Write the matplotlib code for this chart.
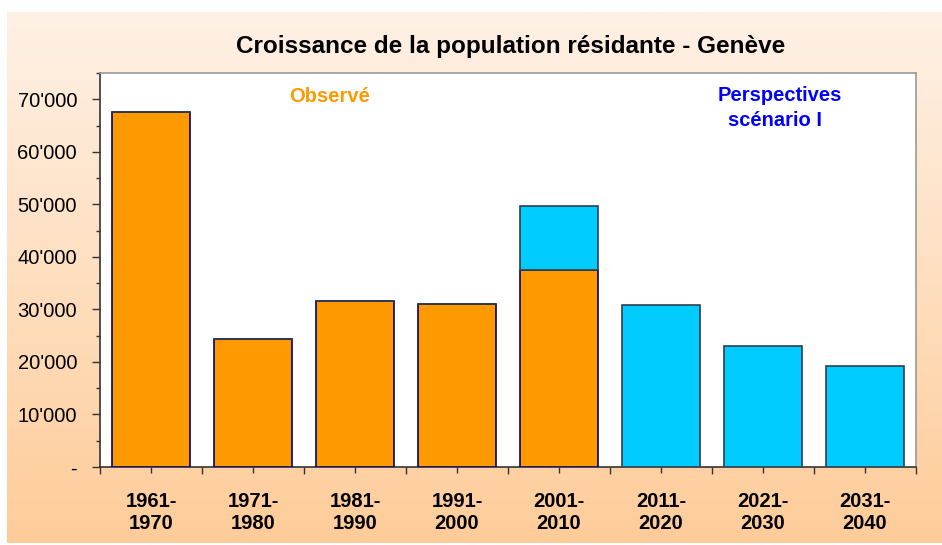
import matplotlib
matplotlib.use("Agg")
import matplotlib.pyplot as plt
import numpy as np
from matplotlib.ticker import FuncFormatter, MultipleLocator, FixedLocator

plt.rcParams['font.family'] = ['Liberation Sans', 'DejaVu Sans']

categories = ["1961-\n1970", "1971-\n1980", "1981-\n1990", "1991-\n2000",
              "2001-\n2010", "2011-\n2020", "2021-\n2030", "2031-\n2040"]
observed = [67500, 24300, 31600, 31100, 37500, 0, 0, 0]
projected = [0, 0, 0, 0, 12100, 30800, 23100, 19300]

W, H = 942, 545
fig = plt.figure(figsize=(W / 100, H / 100), dpi=100)

# gradient background panel
bg = fig.add_axes([7 / W, 2 / H, (W - 7) / W, (543 - 12) / H])
bg.set_axis_off()
top = np.array([254, 241, 230]) / 255
bot = np.array([255, 204, 153]) / 255
t = np.linspace(0, 1, 256)[:, None]
grad = top[None, :] * (1 - t) + bot[None, :] * t
bg.imshow(grad[:, None, :], aspect='auto', extent=[0, 1, 0, 1])
bg.set_xlim(0, 1); bg.set_ylim(0, 1)

ax = fig.add_axes([100 / W, (H - 467) / H, 816 / W, 394 / H])
ax.set_facecolor('white')
x = np.arange(len(categories))
ax.bar(x, observed, width=0.77, color='#FF9900', edgecolor='#000080', linewidth=1.2, zorder=3)
ax.bar(x, projected, width=0.77, bottom=observed, color='#00CCFF', edgecolor='#2f3f4f',
       linewidth=1.2, zorder=3)

ax.set_xlim(-0.5, len(categories) - 0.5)
ax.set_ylim(0, 75000)

def fmt(v, pos):
    if v == 0:
        return '-'
    return "{:,}".format(int(v)).replace(',', "'")

ax.yaxis.set_major_locator(MultipleLocator(10000))
ax.yaxis.set_minor_locator(MultipleLocator(5000))
ax.yaxis.set_major_formatter(FuncFormatter(fmt))
ax.tick_params(axis='y', which='major', length=5.5, width=1, color='#333333',
               labelsize=14.5, pad=11, direction='out')
ax.tick_params(axis='y', which='minor', length=3, width=1, color='#333333', direction='out')

ax.xaxis.set_major_locator(FixedLocator(np.arange(-0.5, len(categories), 1.0)))
ax.xaxis.set_minor_locator(FixedLocator(x))
ax.xaxis.set_major_formatter(FuncFormatter(lambda v, p: ''))
ax.set_xticks(x, minor=True)
ax.set_xticklabels(categories, minor=True, fontsize=14.5, fontweight='bold')
ax.tick_params(axis='x', which='major', length=5, width=1, color='#333333', direction='out')
ax.tick_params(axis='x', which='minor', length=4, width=1, color='#333333', direction='out',
               pad=14)
for lbl in ax.get_xticklabels(minor=True):
    lbl.set_linespacing(1.2)

ax.spines['left'].set_color('#333333')
ax.spines['bottom'].set_color('#333333')
ax.spines['top'].set_color('#999999')
ax.spines['right'].set_color('#999999')
for s in ax.spines.values():
    s.set_linewidth(1.2)

fig.text(511 / W, 1 - 46 / H, "Croissance de la population résidante - Genève",
         ha='center', va='center', fontsize=17.5, fontweight='bold', color='black')
fig.text(330 / W, 1 - 96 / H, "Observé", ha='center', va='center', fontsize=14.5,
         fontweight='bold', color='#FF9900')
fig.text(780 / W, 1 - 95 / H, "Perspectives", ha='center', va='center', fontsize=14.5,
         fontweight='bold', color='#0000FF')
fig.text(775 / W, 1 - 121 / H, "scénario I", ha='center', va='center', fontsize=14.5,
         fontweight='bold', color='#0000FF')

fig.savefig('out.png', dpi=100)
